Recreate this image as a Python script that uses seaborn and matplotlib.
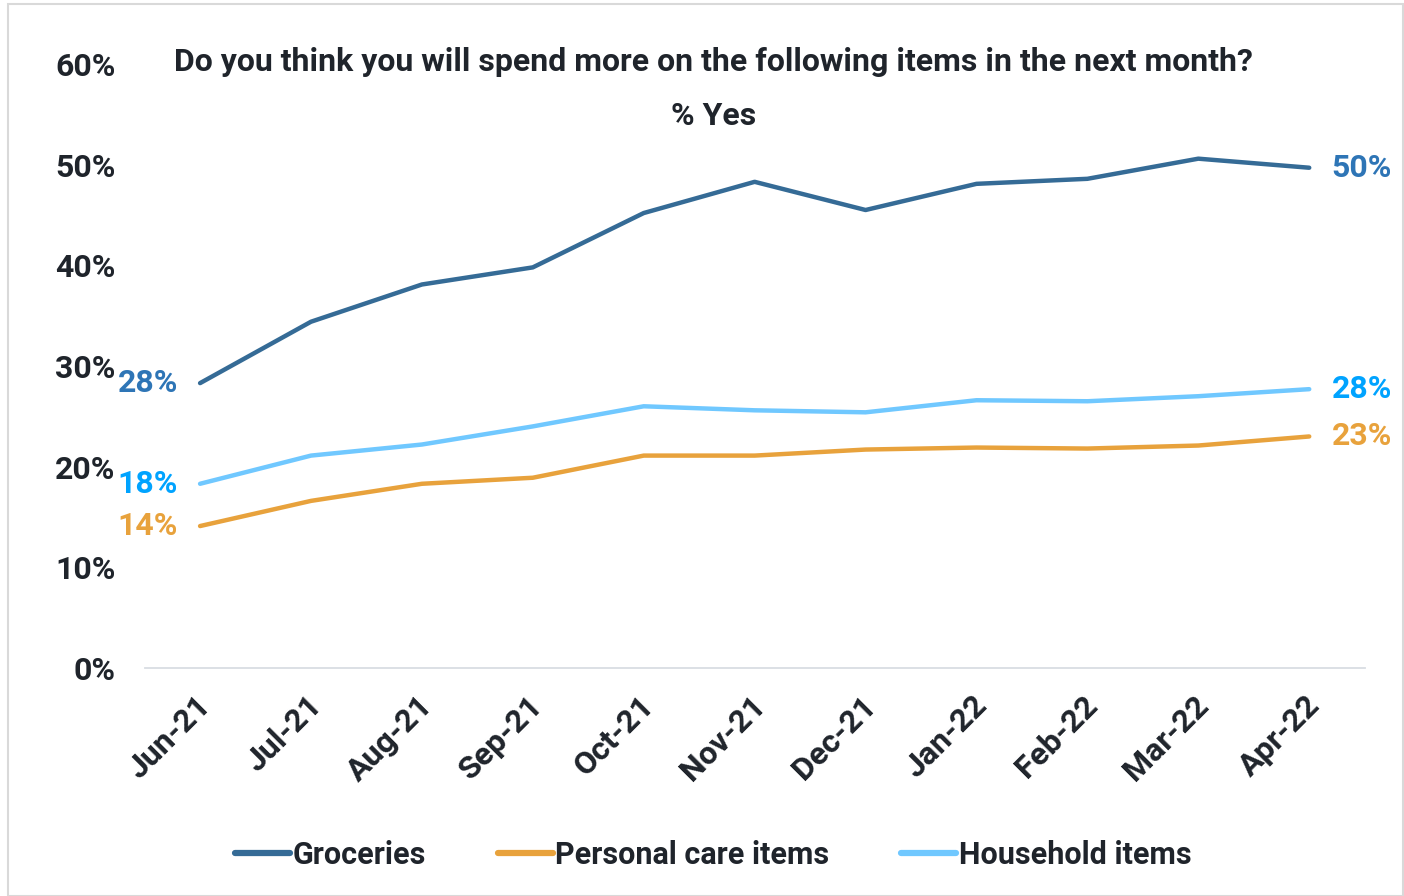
import numpy as np
import pandas as pd
import matplotlib.pyplot as plt
import seaborn as sns
from matplotlib.patches import Rectangle
from matplotlib.ticker import PercentFormatter
from matplotlib.transforms import ScaledTranslation

months=["Jun-21","Jul-21","Aug-21","Sep-21","Oct-21","Nov-21",
    "Dec-21","Jan-22","Feb-22","Mar-22","Apr-22"]
groceries=[28.3,34.4,38.1,39.8,45.2,48.3,45.5,48.1,48.6,50.6,49.7]
personal=[14.1,16.6,18.3,18.9,21.1,21.1,21.7,21.9,21.8,22.1,23.0]
household=[18.3,21.1,22.2,24.0,26.0,25.6,25.4,26.6,26.5,27.0,27.7]
series=["Groceries","Personal care items","Household items"]
line_cols=["#356B96","#E8A23C","#70C8FF"]
lab_cols=["#2E75B6","#E8A23C","#00A3FF"]

df=pd.DataFrame({"month":months*3,
    "val":groceries+personal+household,
    "item":np.repeat(series,len(months))})

sns.set_theme(style="white")
plt.rcParams['font.family']=['Roboto','DejaVu Sans']
txt="#1F242B"
fs=23

fg=plt.figure(figsize=(14.04,8.96),dpi=100)
ax=fg.add_axes([0.103,0.2545,0.869,0.674])
#plt object
sns.lineplot(data=df,x="month",y="val",hue="item",
    palette=dict(zip(series,line_cols)),linewidth=3.2,
    sort=False,ax=ax,legend=False)
ax.set_xlim(-0.5,10.5)
ax.set_ylim(0,60)
ax.set_yticks(range(0,61,10))
ax.yaxis.set_major_formatter(PercentFormatter(decimals=0))
ax.set_xlabel("")
ax.set_ylabel("")
sns.despine(ax=ax,left=True)
ax.spines["bottom"].set_color("#D9DDE3")
ax.spines["bottom"].set_linewidth(1.3)
ax.tick_params(axis="y",length=0,pad=21,labelsize=fs,labelcolor=txt)
ax.tick_params(axis="x",length=0,pad=16,labelsize=fs,labelcolor=txt)
for lb in ax.get_yticklabels()+ax.get_xticklabels():
    lb.set_fontweight("bold")
plt.setp(ax.get_xticklabels(),rotation=45,ha="right",rotation_mode="anchor")
shift=ScaledTranslation(-5/100,0,fg.dpi_scale_trans)
for lb in ax.get_xticklabels():
    lb.set_transform(lb.get_transform()+shift)

#start/end labels
for vals,c in zip([groceries,personal,household],lab_cols):
    ax.annotate(f"{vals[0]:.0f}%",(0,vals[0]),xytext=(-16,0),textcoords="offset points",
        ha="right",va="center",color=c,fontsize=fs,fontweight="bold")
    ax.annotate(f"{vals[-1]:.0f}%",(10,vals[-1]),xytext=(16,0),textcoords="offset points",
        ha="left",va="center",color=c,fontsize=fs,fontweight="bold")

fg.text(0.508,0.931,"Do you think you will spend more on the following items in the next month?",
    ha="center",va="center",fontsize=fs,fontweight="bold",color=txt)
fg.text(0.508,0.870,"% Yes",ha="center",va="center",fontsize=fs,fontweight="bold",color=txt)

handles=[plt.Line2D([],[],color=c,linewidth=4.5) for c in line_cols]
fg.legend(handles,series,loc="center",bbox_to_anchor=(0.508,0.046),ncol=3,frameon=False,
    handlelength=1.8,handletextpad=0.08,columnspacing=2.35,
    prop={"weight":"bold","size":22})
for t in fg.legends[0].get_texts():
    t.set_color(txt)

fg.patches.append(Rectangle((0.006,0.0),0.993,0.995,transform=fg.transFigure,
    fill=False,edgecolor="#D9D9D9",linewidth=1.5))
fg.savefig("out.png",dpi=100)
